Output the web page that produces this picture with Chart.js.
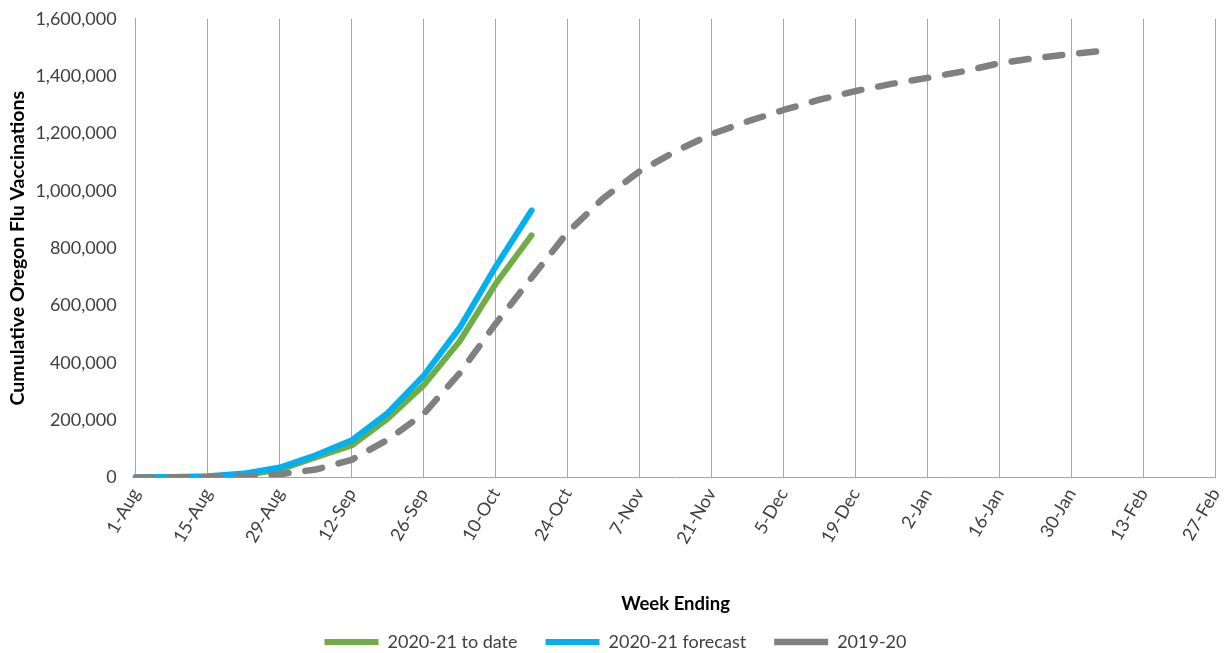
<!DOCTYPE html>
<html>
<head>
<meta charset="utf-8">
<script src="https://cdn.jsdelivr.net/npm/chart.js@4/dist/chart.umd.min.js"></script>
<style>
  html, body { margin: 0; padding: 0; background: #fff; }
  #wrap { width: 1231px; height: 653px; }
</style>
</head>
<body>
<div id="wrap"><canvas id="myChart" width="1231" height="653"></canvas></div>
<script>
// week ending dates, 1-Aug .. 27-Feb
var weeks = ["1-Aug", "8-Aug", "15-Aug", "22-Aug", "29-Aug", "5-Sep", "12-Sep", "19-Sep", "26-Sep",
	"3-Oct", "10-Oct", "17-Oct", "24-Oct", "31-Oct", "7-Nov", "14-Nov", "21-Nov", "28-Nov", "5-Dec",
	"12-Dec", "19-Dec", "26-Dec", "2-Jan", "9-Jan", "16-Jan", "23-Jan", "30-Jan", "6-Feb", "13-Feb",
	"20-Feb", "27-Feb"];

var to_date = [0, 1000, 3000, 8000, 28000, 70000, 112000, 205000, 322000, 475000, 675000, 845000];
var forecast = [0, 2000, 5000, 14000, 35000, 78000, 130000, 225000, 355000, 522000, 735000, 932000];
var last_season = [0, 1000, 2000, 4000, 12000, 28000, 62000, 132000, 222000, 364000, 536000, 697000,
	855000, 975000, 1068000, 1138000, 1198000, 1242000, 1282000, 1318000, 1348000, 1373000, 1394000,
	1417000, 1445000, 1463000, 1477000, 1490000];

var series_names = ["2020-21 to date", "2020-21 forecast", "2019-20"];

var fontFamily = "Lato, 'Open Sans', sans-serif";
var gridColor = "#a6a6a6";

var ctx = document.getElementById("myChart");

var myChart = new Chart(ctx, {
	type: "line",
	data: {
		labels: weeks,
		datasets: [{
			label: series_names[0],
			data: to_date,
			borderColor: "#70ad47",
			backgroundColor: "#70ad47",
			borderWidth: 6,
			borderCapStyle: "round",
			borderJoinStyle: "round",
			pointRadius: 0,
			tension: 0,
			order: 2
		}, {
			label: series_names[1],
			data: forecast,
			borderColor: "#00b0f0",
			backgroundColor: "#00b0f0",
			borderWidth: 6,
			borderCapStyle: "round",
			borderJoinStyle: "round",
			pointRadius: 0,
			tension: 0,
			order: 1
		}, {
			label: series_names[2],
			data: last_season,
			borderColor: "#808080",
			backgroundColor: "#808080",
			borderWidth: 6.5,
			borderDash: [17, 17],
			borderCapStyle: "round",
			borderJoinStyle: "round",
			pointRadius: 0,
			tension: 0,
			order: 0
		}]
	},
	options: {
		responsive: false,
		animation: false,
		layout: {
			padding: { top: 0, right: 0, left: 0, bottom: -8 }
		},
		plugins: {
			tooltip: { enabled: false },
			legend: {
				position: "bottom",
				labels: {
					usePointStyle: true,
					pointStyle: "line",
					pointStyleWidth: 54,
					padding: 28,
					color: "#404040",
					font: { family: fontFamily, size: 18 },
					sort: function (a, b) { return a.datasetIndex - b.datasetIndex; }
				}
			}
		},
		scales: {
			x: {
				offset: false,
				grid: {
					color: function (c) { return c.index % 2 === 0 ? gridColor : "rgba(0,0,0,0)"; },
					drawTicks: true,
					tickLength: 8,
					tickColor: "rgba(0,0,0,0)",
					lineWidth: 1
				},
				border: { color: gridColor },
				ticks: {
					autoSkip: false,
					maxRotation: 60,
					minRotation: 60,
					padding: 0,
					color: "#404040",
					font: { family: fontFamily, size: 18, lineHeight: 1 },
					callback: function (v, i) { return i % 2 === 0 ? weeks[i] : ""; }
				},
				title: {
					display: true,
					text: "Week Ending",
					color: "#000",
					font: { family: fontFamily, size: 18.5, weight: "bold" },
					padding: { top: 46, bottom: -10 }
				}
			},
			y: {
				min: 0,
				max: 1600000,
				grid: { display: false, drawTicks: true, tickLength: 11, tickColor: "rgba(0,0,0,0)" },
				border: { display: true, color: gridColor },
				ticks: {
					stepSize: 200000,
					padding: 8,
					color: "#404040",
					font: { family: fontFamily, size: 18 },
					callback: function (v) { return v.toLocaleString("en-US"); }
				},
				title: {
					display: true,
					text: "Cumulative Oregon Flu Vaccinations",
					color: "#000",
					font: { family: fontFamily, size: 19.5, weight: "bold" },
					padding: { top: 6, bottom: -2 }
				}
			}
		}
	}
});
</script>
</body>
</html>
